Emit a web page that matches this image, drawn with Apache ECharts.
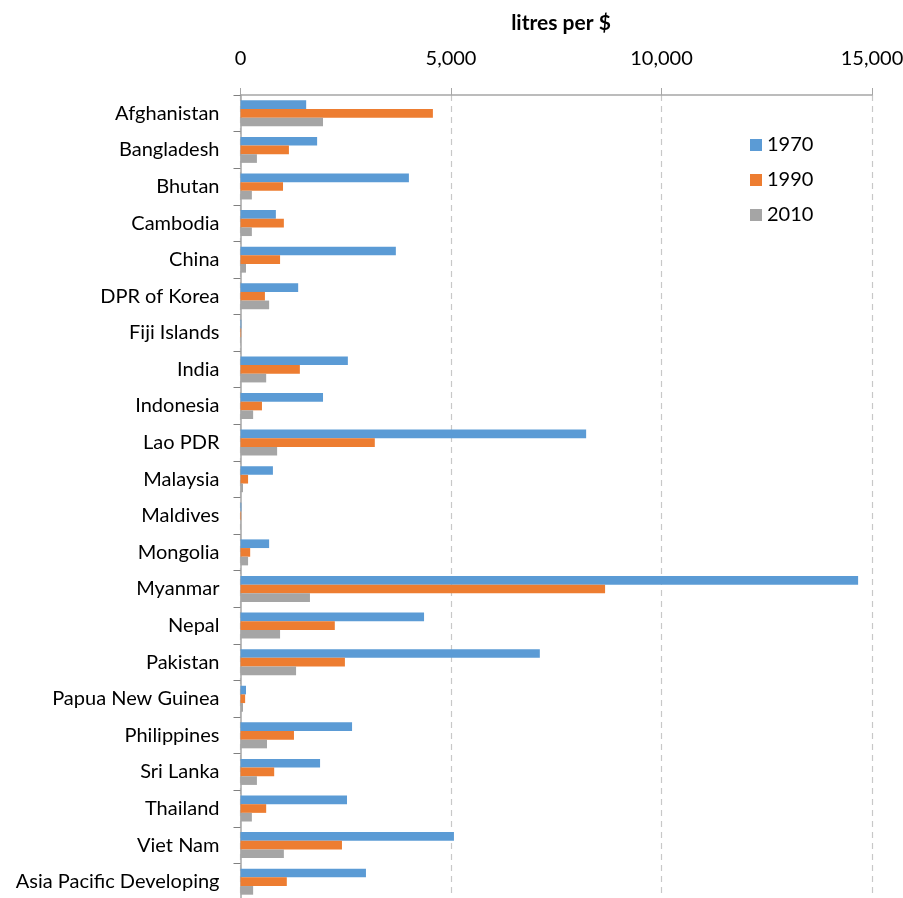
<!DOCTYPE html>
<html><head><meta charset="utf-8">
<script src="https://cdn.jsdelivr.net/npm/echarts@6/dist/echarts.min.js"></script>
<style>html,body{margin:0;padding:0;background:#fff}#c{width:903px;height:898px}</style>
</head><body><div id="c"></div>
<script>
const categories = ["Afghanistan","Bangladesh","Bhutan","Cambodia","China","DPR of Korea","Fiji Islands","India","Indonesia","Lao PDR","Malaysia","Maldives","Mongolia","Myanmar","Nepal","Pakistan","Papua New Guinea","Philippines","Sri Lanka","Thailand","Viet Nam","Asia Pacific Developing"];
const v1970 = [1560,1820,4000,840,3690,1370,20,2550,1960,8210,770,20,680,14670,4360,7110,130,2650,1890,2530,5070,2980];
const v1990 = [4570,1150,1010,1030,940,580,15,1410,510,3190,180,15,230,8660,2240,2480,110,1270,800,610,2410,1100];
const v2010 = [1960,390,270,270,130,680,10,610,300,870,60,10,180,1650,940,1320,60,630,390,270,1030,300];
const seriesNames = ["1970","1990","2010"];
const xTicks = [0,5000,10000,15000];
const colors = ["#5b9bd5","#ed7d31","#a5a5a5"];
const font = "Lato, 'Open Sans', sans-serif";
const chart = echarts.init(document.getElementById('c'));
const data = [v1970, v1990, v2010];
chart.setOption({
  animation:false,
  title:{text:"litres per $", left:556, top:8, textAlign:'center',
    textStyle:{fontFamily:font,fontSize:21,fontWeight:'bold',color:'#000'}},
  legend:{orient:'vertical', left:745, top:130, itemWidth:12, itemHeight:12, itemGap:15,
    data:seriesNames, icon:'rect',
    textStyle:{fontFamily:font,fontSize:20,color:'#000'}},
  grid:{left:240.5, right:31, top:95, height:805, containLabel:false, outerBoundsMode:'none'},
  xAxis:{type:'value', position:'top', min:xTicks[0], max:xTicks[xTicks.length-1], interval:5000,
    axisLine:{show:true,lineStyle:{color:'#a6a6a6',width:1.5}},
    axisTick:{show:true,length:7,inside:false,lineStyle:{color:'#a6a6a6'}},
    axisLabel:{fontFamily:font,fontSize:20,color:'#000',margin:26,
      formatter:v=>v.toLocaleString('en-US')},
    splitLine:{show:true,lineStyle:{color:'#c8c8c8',type:[6,5],width:1.2}}},
  yAxis:{type:'category', inverse:true, data:categories,
    axisLine:{show:true,lineStyle:{color:'#a6a6a6',width:1.5}},
    axisTick:{show:true,length:7,lineStyle:{color:'#808080'}},
    axisLabel:{fontFamily:font,fontSize:20,color:'#000',margin:21}},
  series: seriesNames.map((n,i)=>({name:n,type:'bar',data:data[i],
    barGap:'0%', barCategoryGap:'29%', itemStyle:{color:colors[i]}}))
});
</script></body></html>
